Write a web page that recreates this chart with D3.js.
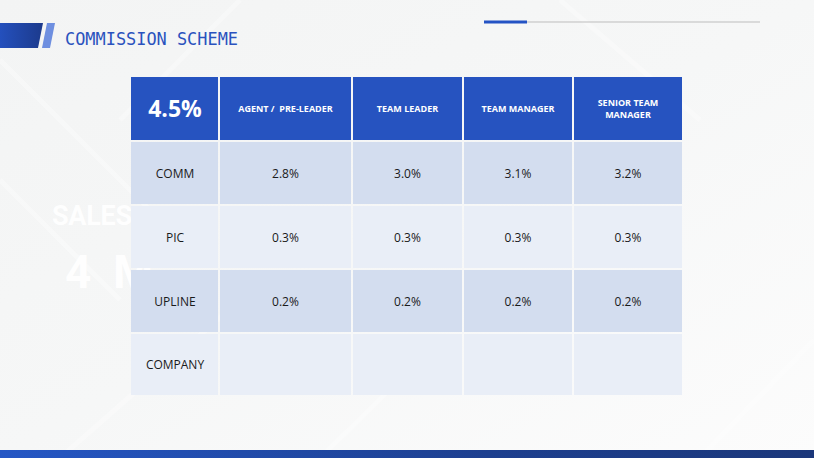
<!DOCTYPE html>
<html>
<head>
<meta charset="utf-8">
<script src="https://cdn.jsdelivr.net/npm/d3@7"></script>
<style>
  html, body { margin: 0; padding: 0; background: #fff; }
  svg { display: block; }
  text { white-space: pre; }
</style>
</head>
<body>
<svg id="chart" width="814" height="458"></svg>
<script>
// table content
var corner = "4.5%";
var columns = ["AGENT /  PRE-LEADER", "TEAM LEADER", "TEAM MANAGER", "SENIOR TEAM|MANAGER"];
var rowLabels = ["COMM", "PIC", "UPLINE", "COMPANY"];
var comm = ["2.8%", "3.0%", "3.1%", "3.2%"];
var pic = ["0.3%", "0.3%", "0.3%", "0.3%"];
var upline = ["0.2%", "0.2%", "0.2%", "0.2%"];
var company = ["", "", "", ""];
var rowValues = [comm, pic, upline, company];

var svg = d3.select("#chart");
var defs = svg.append("defs");

// background
var bg = defs.append("linearGradient").attr("id", "bg").attr("x1", 0).attr("y1", 0).attr("x2", 1).attr("y2", 1);
bg.append("stop").attr("offset", "0%").attr("stop-color", "#f3f4f4");
bg.append("stop").attr("offset", "50%").attr("stop-color", "#f6f7f7");
bg.append("stop").attr("offset", "100%").attr("stop-color", "#fcfcfc");
svg.append("rect").attr("width", 814).attr("height", 458).attr("fill", "url(#bg)");

// faint building lines
var lines = svg.append("g").attr("stroke", "#ffffff").attr("stroke-width", 5).attr("opacity", 0.35);
[[0, 60, 180, 240], [0, 180, 120, 300], [60, 458, 240, 300], [320, 458, 420, 360],
 [700, 458, 814, 340], [560, 0, 700, 120], [120, 120, 240, 0]].forEach(function (l) {
  lines.append("line").attr("x1", l[0]).attr("y1", l[1]).attr("x2", l[2]).attr("y2", l[3]);
});

// watermark text
var wm = svg.append("g").attr("fill", "#ffffff").attr("opacity", 0.9)
  .attr("font-family", "Roboto, sans-serif").attr("font-weight", "bold");
wm.append("text").attr("x", 52).attr("y", 225).attr("font-size", 27)
  .attr("textLength", 80).text("SALES");
wm.append("text").attr("x", 65).attr("y", 288).attr("font-size", 46).text("4");
wm.append("text").attr("x", 113).attr("y", 288).attr("font-size", 46).text("M");

// header logo
var lg = defs.append("linearGradient").attr("id", "logo").attr("x1", 0).attr("x2", 1);
lg.append("stop").attr("offset", "0%").attr("stop-color", "#2450bd");
lg.append("stop").attr("offset", "100%").attr("stop-color", "#1c3a8c");
svg.append("polygon").attr("points", "0,23 43,23 38,48 0,48").attr("fill", "url(#logo)");
svg.append("polygon").attr("points", "47,23 55,23 50,48 42,48").attr("fill", "#6e8fe0");
svg.append("text").attr("x", 65).attr("y", 45).attr("fill", "#2a52be")
  .attr("font-family", "'DejaVu Sans Mono', 'Liberation Mono', monospace")
  .attr("font-size", 18).attr("textLength", 173).attr("lengthAdjust", "spacingAndGlyphs")
  .text("COMMISSION SCHEME");

// top right rule
svg.append("line").attr("x1", 527).attr("x2", 760).attr("y1", 22).attr("y2", 22)
  .attr("stroke", "#bdbdbd").attr("stroke-width", 1);
svg.append("line").attr("x1", 484).attr("x2", 527).attr("y1", 22).attr("y2", 22)
  .attr("stroke", "#2453c4").attr("stroke-width", 3);

// bottom bar
var bb = defs.append("linearGradient").attr("id", "bar").attr("x1", 0).attr("x2", 1);
bb.append("stop").attr("offset", "0%").attr("stop-color", "#2557c5");
bb.append("stop").attr("offset", "60%").attr("stop-color", "#1d3f8f");
bb.append("stop").attr("offset", "100%").attr("stop-color", "#1b377a");
svg.append("rect").attr("x", 0).attr("y", 450).attr("width", 814).attr("height", 8).attr("fill", "url(#bar)");

// table
var colEdges = [131, 219, 352, 463, 573, 683];
var rowEdges = [77, 141, 205, 269, 333, 396];
var gap = 2;
var font = "'Open Sans', 'Noto Sans', sans-serif";

var x = d3.scaleOrdinal().domain(d3.range(6)).range(colEdges);
var y = d3.scaleOrdinal().domain(d3.range(6)).range(rowEdges);

var table = svg.append("g");
var cells = [];
for (var r = 0; r < 5; r++) {
  for (var c = 0; c < 5; c++) {
    var label;
    if (r === 0) label = c === 0 ? corner : columns[c - 1];
    else label = c === 0 ? rowLabels[r - 1] : rowValues[r - 1][c - 1];
    cells.push({ r: r, c: c, label: label });
  }
}

function fillFor(d) {
  if (d.r === 0) return "#2653c0";
  return d.r % 2 === 1 ? "#d3ddef" : "#e9eef7";
}

var cell = table.selectAll("g.cell").data(cells).join("g").attr("class", "cell");
cell.append("rect")
  .attr("x", function (d) { return x(d.c) + (d.c === 0 ? 0 : gap / 2); })
  .attr("y", function (d) { return y(d.r) + (d.r === 0 ? 0 : gap / 2); })
  .attr("width", function (d) { return x(d.c + 1) - x(d.c) - (d.c === 0 ? gap / 2 : gap); })
  .attr("height", function (d) { return y(d.r + 1) - y(d.r) - (d.r === 0 ? gap / 2 : gap); })
  .attr("fill", fillFor);

cell.each(function (d) {
  var cx = (x(d.c) + x(d.c + 1)) / 2;
  var cy = (y(d.r) + y(d.r + 1)) / 2;
  var parts = d.label.split("|");
  var t = d3.select(this).append("text")
    .attr("x", cx).attr("text-anchor", "middle")
    .attr("font-family", font);
  if (d.r === 0 && d.c === 0) {
    t.attr("y", cy + 8).attr("font-size", 23).attr("font-weight", "bold").attr("fill", "#fff");
  } else if (d.r === 0) {
    t.attr("font-size", 9).attr("font-weight", "bold").attr("fill", "#fff");
  } else {
    t.attr("y", cy + 4.5).attr("font-size", 12).attr("fill", "#1a1a1a");
  }
  if (d.r === 0 && d.c > 0) {
    var lh = 12;
    var y0 = cy + 3 - (parts.length - 1) * lh / 2;
    parts.forEach(function (p, i) {
      t.append("tspan").attr("x", cx).attr("y", y0 + i * lh).text(p);
    });
  } else {
    t.text(d.label);
  }
});
</script>
</body>
</html>
